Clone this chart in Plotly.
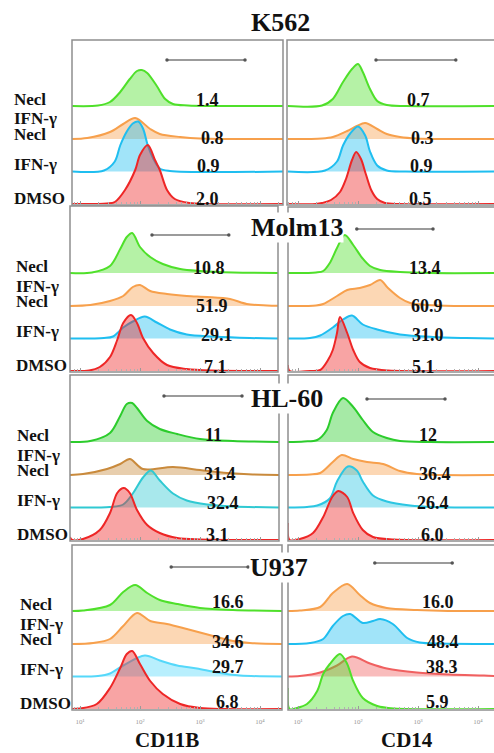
import plotly.graph_objects as go

FIG_W, FIG_H = 494, 753

cell_lines = ["K562", "Molm13", "HL-60", "U937"]
markers = ["CD11B", "CD14"]
decade_ticks = [10, 100, 1000, 10000]
decade_labels = ["10¹", "10²", "10³", "10⁴"]

# Histogram outlines as (log10 intensity, height) knots.
# Each panel lists its four samples from the top lane down:
# Necl, IFN-γ + Necl, IFN-γ, DMSO.
k562_cd11b = [
    [(0.87, 0), (1.3, 0.5), (1.5, 4), (1.67, 14), (1.83, 27), (1.95, 35), (2.03, 36), (2.12, 33), (2.28, 20), (2.42, 7), (2.55, 2), (2.8, 0.5), (4.4, 0)],
    [(0.87, 0), (1.12, 1), (1.5, 7), (1.72, 15), (1.92, 21), (2.17, 10), (2.33, 5), (2.67, 2), (3.0, 0.5), (4.4, 0)],
    [(0.87, 0), (1.4, 1), (1.58, 10), (1.67, 26), (1.78, 40), (1.88, 48), (1.97, 50), (2.05, 43), (2.13, 26), (2.22, 13), (2.33, 3), (2.5, 0.5), (4.4, 0)],
    [(0.87, 0), (1.45, 0.5), (1.58, 2), (1.75, 14), (1.92, 34), (2.0, 49), (2.13, 59), (2.25, 44), (2.33, 34), (2.45, 14), (2.58, 5), (2.83, 1), (3.1, 0), (4.4, 0)],
]
k562_cd14 = [
    [(0.83, 0), (1.4, 0.5), (1.58, 7), (1.75, 24), (1.9, 37), (2.0, 42), (2.08, 34), (2.2, 17), (2.32, 5), (2.48, 1), (2.8, 0), (4.3, 0)],
    [(0.83, 0), (1.4, 0.5), (1.58, 2), (1.82, 8), (1.98, 13), (2.12, 16), (2.32, 10), (2.48, 5), (2.7, 2), (2.98, 0.5), (4.3, 0)],
    [(0.83, 0), (1.45, 1), (1.65, 10), (1.75, 26), (1.87, 38), (2.0, 45), (2.12, 36), (2.2, 20), (2.32, 6), (2.48, 1), (2.8, 0), (4.3, 0)],
    [(0.83, 0), (1.3, 0), (1.4, 1), (1.55, 4), (1.7, 12), (1.8, 25), (1.9, 44), (1.97, 52), (2.05, 45), (2.13, 30), (2.22, 14), (2.32, 5), (2.45, 1), (2.7, 0), (4.3, 0)],
]
molm13_cd11b = [
    [(0.83, 0), (1.2, 0.5), (1.5, 7), (1.67, 24), (1.78, 36), (1.87, 40), (2.0, 26), (2.17, 16), (2.38, 9), (2.67, 4), (3.0, 2), (3.55, 0.5), (4.4, 0)],
    [(0.83, 0), (1.17, 1), (1.5, 5), (1.72, 10), (1.88, 19), (2.0, 21), (2.17, 15), (2.45, 12), (2.78, 10), (3.12, 9), (3.5, 7), (3.78, 2), (4.12, 0.5), (4.4, 0)],
    [(0.83, 0), (1.4, 0.5), (1.55, 2), (1.72, 11), (1.88, 17), (2.08, 22), (2.28, 16), (2.5, 9), (2.78, 4), (3.22, 2), (3.83, 0.5), (4.4, 0)],
    [(0.83, 0), (1.15, 0.5), (1.33, 4), (1.5, 14), (1.62, 31), (1.72, 48), (1.85, 56), (1.95, 48), (2.05, 33), (2.22, 18), (2.45, 6), (2.78, 2), (3.2, 0.5), (4.4, 0)],
]
molm13_cd14 = [
    [(0.83, 0), (1.3, 0.5), (1.42, 2), (1.53, 10), (1.65, 25), (1.78, 38), (1.92, 28), (2.07, 15), (2.2, 7), (2.37, 3), (2.7, 1), (3.2, 0), (4.3, 0)],
    [(0.83, 0), (1.3, 0.5), (1.42, 2), (1.65, 10), (1.82, 16), (2.03, 18), (2.2, 21), (2.37, 26), (2.5, 18), (2.7, 8), (2.87, 3), (3.15, 1), (3.6, 0), (4.3, 0)],
    [(0.83, 0), (1.2, 0.5), (1.37, 3), (1.58, 11), (1.75, 19), (1.9, 23), (2.08, 14), (2.32, 9), (2.7, 4), (3.25, 1.5), (3.8, 0.5), (4.3, 0)],
    [(0.83, 6), (0.86, 0), (1.2, 0), (1.37, 1), (1.5, 11), (1.58, 21), (1.65, 38), (1.7, 54), (1.82, 38), (1.92, 21), (2.03, 9), (2.2, 3), (2.5, 0.5), (4.3, 0)],
]
hl60_cd11b = [
    [(0.83, 0), (1.17, 1), (1.5, 9), (1.67, 26), (1.78, 38), (1.87, 39), (1.95, 34), (2.12, 21), (2.33, 13), (2.62, 8), (3.0, 3), (3.55, 1), (4.4, 0)],
    [(0.83, 0), (1.05, 1), (1.45, 6), (1.67, 11), (1.83, 16), (2.05, 6), (2.55, 8), (3.0, 5), (3.45, 2), (3.88, 0.5), (4.4, 0)],
    [(0.83, 0), (1.5, 0.5), (1.72, 3), (1.88, 14), (2.05, 30), (2.18, 37), (2.33, 27), (2.55, 14), (2.78, 7), (3.12, 3), (3.55, 1), (4.4, 0)],
    [(0.83, 3), (0.87, 0), (1.05, 1), (1.33, 10), (1.5, 27), (1.62, 47), (1.73, 52), (1.83, 47), (1.95, 30), (2.12, 15), (2.33, 7), (2.62, 2), (3.0, 0.5), (4.4, 0)],
]
hl60_cd14 = [
    [(0.83, 0), (1.1, 0.5), (1.32, 2), (1.48, 12), (1.58, 29), (1.75, 44), (1.92, 35), (2.08, 22), (2.25, 10), (2.48, 4), (2.7, 1), (3.2, 0), (4.3, 0)],
    [(0.83, 0), (1.2, 0.5), (1.37, 2), (1.58, 13), (1.73, 20), (1.92, 16), (2.15, 13), (2.42, 11), (2.7, 4), (2.98, 1), (3.4, 0), (4.3, 0)],
    [(0.83, 0), (1.15, 0.5), (1.32, 2), (1.53, 9), (1.65, 26), (1.83, 41), (1.98, 37), (2.08, 26), (2.25, 12), (2.48, 6), (2.87, 2), (3.25, 0.5), (4.3, 0)],
    [(0.83, 17), (0.86, 0), (1.03, 1), (1.25, 7), (1.42, 23), (1.57, 43), (1.67, 49), (1.82, 43), (1.92, 27), (2.08, 10), (2.25, 3), (2.6, 0.5), (4.3, 0)],
]
u937_cd11b = [
    [(0.87, 0), (1.05, 0.5), (1.5, 6), (1.72, 19), (1.92, 26), (2.12, 18), (2.33, 11), (2.62, 7), (3.0, 3), (3.55, 1), (4.4, 0)],
    [(0.87, 0), (1.22, 1), (1.5, 5), (1.72, 18), (1.95, 31), (2.17, 23), (2.45, 20), (2.78, 15), (3.22, 8), (3.55, 3), (3.83, 1), (4.4, 0)],
    [(0.87, 0), (1.3, 0.5), (1.5, 3), (1.72, 11), (2.08, 21), (2.33, 16), (2.62, 11), (2.95, 8), (3.28, 4), (3.67, 1), (4.4, 0)],
    [(0.87, 0), (1.0, 0.5), (1.28, 5), (1.5, 21), (1.67, 41), (1.78, 55), (1.87, 58), (2.0, 45), (2.17, 28), (2.38, 15), (2.67, 5), (3.0, 1), (3.4, 0), (4.4, 0)],
]
u937_cd14 = [
    [(0.83, 0), (1.03, 0.5), (1.37, 4), (1.58, 18), (1.82, 27), (2.03, 16), (2.2, 8), (2.48, 3), (2.98, 1), (3.5, 0), (4.3, 0)],
    [(0.83, 0), (1.2, 1), (1.42, 5), (1.58, 18), (1.75, 28), (1.87, 30), (2.08, 21), (2.25, 23), (2.37, 25), (2.58, 20), (2.82, 6), (3.03, 1.5), (3.37, 0.5), (4.3, 0)],
    [(0.83, 0), (1.03, 0.5), (1.37, 4), (1.65, 11), (1.9, 20), (2.2, 13), (2.48, 8), (2.98, 4), (3.53, 2), (4.1, 1), (4.3, 0.5)],
    [(0.83, 21), (0.86, 0), (0.98, 1), (1.15, 5), (1.32, 18), (1.42, 35), (1.53, 45), (1.7, 55), (1.82, 45), (1.92, 28), (2.08, 11), (2.32, 3), (2.6, 0.5), (4.3, 0)],
]

# Percent of cells inside the positive gate, top lane first
k562_cd11b_pct = ["1.4", "0.8", "0.9", "2.0"]
k562_cd14_pct = ["0.7", "0.3", "0.9", "0.5"]
molm13_cd11b_pct = ["10.8", "51.9", "29.1", "7.1"]
molm13_cd14_pct = ["13.4", "60.9", "31.0", "5.1"]
hl60_cd11b_pct = ["11", "31.4", "32.4", "3.1"]
hl60_cd14_pct = ["12", "36.4", "26.4", "6.0"]
u937_cd11b_pct = ["16.6", "34.6", "29.7", "6.8"]
u937_cd14_pct = ["16.0", "48.4", "38.3", "5.9"]

# Positive gate bounds (log10 intensity)
k562_cd11b_gate = (2.45, 3.75)
k562_cd14_gate = (2.3, 3.63)
molm13_cd11b_gate = (2.2, 3.48)
molm13_cd14_gate = (1.98, 3.25)
hl60_cd11b_gate = (2.4, 3.7)
hl60_cd14_gate = (2.15, 3.45)
u937_cd11b_gate = (2.52, 3.8)
u937_cd14_gate = (2.28, 3.57)

# ---------------------------------------------------------------- styling
GREEN, GREEN_DK = "#4fe02a", "#2ccc2c"
ORANGE, ORANGE_DK = "#f7a04c", "#c98a3c"
BLUE, TEAL = "#1fbef0", "#30c9d2"
RED = "#ee2626"

SERIF = "Liberation Serif"
FRAME = "#8e8e8e"

panels = [
    # row, marker, curves, pct, gate, box px (x0, x1, y0, y1), colours, gate y px, value x px
    ("K562", "CD11B", k562_cd11b, k562_cd11b_pct, k562_cd11b_gate, (72, 283, 40, 204),
     [GREEN, ORANGE, BLUE, RED], 60, [207, 212, 208, 207]),
    ("K562", "CD14", k562_cd14, k562_cd14_pct, k562_cd14_gate, (287, 500, 40, 204),
     [GREEN, ORANGE, BLUE, RED], 60, [418, 422, 421, 420]),
    ("Molm13", "CD11B", molm13_cd11b, molm13_cd11b_pct, molm13_cd11b_gate, (70, 278, 206, 371),
     [GREEN, ORANGE, BLUE, RED], 235, [209, 212, 217, 215]),
    ("Molm13", "CD14", molm13_cd14, molm13_cd14_pct, molm13_cd14_gate, (288, 500, 207, 371),
     [GREEN, ORANGE, BLUE, RED], 229, [425, 427, 428, 423]),
    ("HL-60", "CD11B", hl60_cd11b, hl60_cd11b_pct, hl60_cd11b_gate, (70, 279, 375, 540),
     [GREEN_DK, ORANGE_DK, TEAL, RED], 396, [213, 220, 223, 217]),
    ("HL-60", "CD14", hl60_cd14, hl60_cd14_pct, hl60_cd14_gate, (288, 500, 375, 540),
     [GREEN_DK, ORANGE, "#2cc6e2", RED], 399, [428, 435, 433, 432]),
    ("U937", "CD11B", u937_cd11b, u937_cd11b_pct, u937_cd11b_gate, (72, 282, 545, 709),
     [GREEN, ORANGE, "#55d8fa", RED], 567, [228, 228, 228, 227]),
    ("U937", "CD14", u937_cd14, u937_cd14_pct, u937_cd14_gate, (288, 500, 545, 709),
     [ORANGE, BLUE, "#f06060", GREEN], 563, [438, 443, 442, 437]),
]

lane_offset = [98, 65, 32.5, 0]          # px above the bottom lane
decade_px = 60                            # px per decade
decade10_px = {"CD11B": 80, "CD14": 298}  # x position of 10^1

value_y = {"K562": [100, 138, 166, 199], "Molm13": [268, 306, 335, 367],
           "HL-60": [435, 474, 503, 535], "U937": [602, 642, 667, 702]}
label_x = {"K562": 12, "Molm13": 14, "HL-60": 15, "U937": 18}
title_pos = {"K562": (280, 23), "Molm13": (297, 228), "HL-60": (287, 398), "U937": (279, 567)}


def rgba(hex_col, a):
    h = hex_col.lstrip("#")
    r, g, b = int(h[0:2], 16), int(h[2:4], 16), int(h[4:6], 16)
    return f"rgba({r},{g},{b},{a})"


def px(x):
    return x / FIG_W


def py(y):
    return 1 - y / FIG_H


fig = go.Figure()
shapes, annotations = [], []
layout_axes = {}

for i, (row, marker, curves, pct, gate, box, colours, gate_y, val_x) in enumerate(panels, start=1):
    x0, x1, y0, y1 = box
    vis_x1 = min(x1, FIG_W)
    ref = decade10_px[marker]
    lo = 1 + (x0 - ref) / decade_px
    hi = 1 + (vis_x1 - ref) / decade_px
    height = y1 - y0
    xa, ya = f"x{i}" if i > 1 else "x", f"y{i}" if i > 1 else "y"
    bottom_row = row == "U937"

    layout_axes[f"xaxis{i}" if i > 1 else "xaxis"] = dict(
        type="log", domain=[px(x0), px(vis_x1)], range=[lo, hi], anchor=ya,
        showgrid=False, zeroline=False, showline=False,
        ticks="inside", ticklen=3, tickcolor="#9a9a9a", tickwidth=1,
        tickvals=decade_ticks, ticktext=decade_labels,
        showticklabels=bottom_row, ticklabelstandoff=7,
        tickfont=dict(family=SERIF, size=7, color="#9a9a9a"),
        minor=dict(ticks="inside", ticklen=2, tickcolor="#b0b0b0", dtick="D1", showgrid=False),
    )
    layout_axes[f"yaxis{i}" if i > 1 else "yaxis"] = dict(
        domain=[py(y1), py(y0)], range=[0, height], anchor=xa, visible=False,
    )

    for lane, knots in enumerate(curves):
        base = lane_offset[lane]
        col = colours[lane]
        fig.add_trace(go.Scatter(
            x=[10 ** lo, 10 ** hi], y=[base, base], mode="lines",
            line=dict(width=0, color="rgba(0,0,0,0)"), hoverinfo="skip",
            showlegend=False, xaxis=xa, yaxis=ya,
        ))
        fig.add_trace(go.Scatter(
            x=[10 ** a for a, _ in knots], y=[base + h for _, h in knots],
            mode="lines", line=dict(color=col, width=2, shape="spline", smoothing=0.9),
            fill="tonexty", fillcolor=rgba(col, 0.42),
            hoverinfo="skip", showlegend=False, xaxis=xa, yaxis=ya,
        ))
        annotations.append(dict(
            x=px(val_x[lane]), y=py(value_y[row][lane]), xref="paper", yref="paper",
            text=f"<b>{pct[lane]}</b>", showarrow=False, xanchor="center", yanchor="middle",
            font=dict(family=SERIF, size=18, color="#111"),
        ))

    # positive gate marker
    fig.add_trace(go.Scatter(
        x=[10 ** gate[0], 10 ** gate[1]], y=[y1 - gate_y] * 2, mode="lines+markers",
        line=dict(color="#7a7a7a", width=1.4), marker=dict(size=3.5, color="#555"),
        hoverinfo="skip", showlegend=False, xaxis=xa, yaxis=ya,
    ))

    shapes.append(dict(type="rect", xref="paper", yref="paper",
                       x0=px(x0), x1=px(x1), y0=py(y1 + 1), y1=py(y0),
                       line=dict(color=FRAME, width=1.5), fillcolor="rgba(0,0,0,0)"))

# lane labels on the left of each row
for row in cell_lines:
    p = [q for q in panels if q[0] == row][0]
    bottom = p[5][3]
    bases = [bottom - o for o in lane_offset]
    items = [("Necl", bases[0] - 7), ("IFN-γ", bases[1] - 20), ("Necl", bases[1] - 5),
             ("IFN-γ", bases[2] - 7), ("DMSO", bases[3] - 6)]
    for txt, yy in items:
        annotations.append(dict(
            x=px(label_x[row]), y=py(yy), xref="paper", yref="paper",
            text=f"<b>{txt}</b>", showarrow=False, xanchor="left", yanchor="middle",
            font=dict(family=SERIF, size=17, color="#111"),
        ))
    tx, ty = title_pos[row]
    annotations.append(dict(
        x=px(tx), y=py(ty), xref="paper", yref="paper", text=f"<b>{row}</b>",
        showarrow=False, xanchor="center", yanchor="middle", bgcolor="white", borderpad=0,
        font=dict(family=SERIF, size=26, color="#111"),
    ))

for name, xx in zip(markers, [167, 407]):
    annotations.append(dict(
        x=px(xx), y=py(740), xref="paper", yref="paper", text=f"<b>{name}</b>",
        showarrow=False, xanchor="center", yanchor="middle",
        font=dict(family=SERIF, size=21, color="#111"),
    ))

fig.update_layout(
    width=FIG_W, height=FIG_H, margin=dict(l=0, r=0, t=0, b=0),
    paper_bgcolor="white", plot_bgcolor="rgba(0,0,0,0)",
    shapes=shapes, annotations=annotations, **layout_axes,
)

fig.write_html("out.html")
